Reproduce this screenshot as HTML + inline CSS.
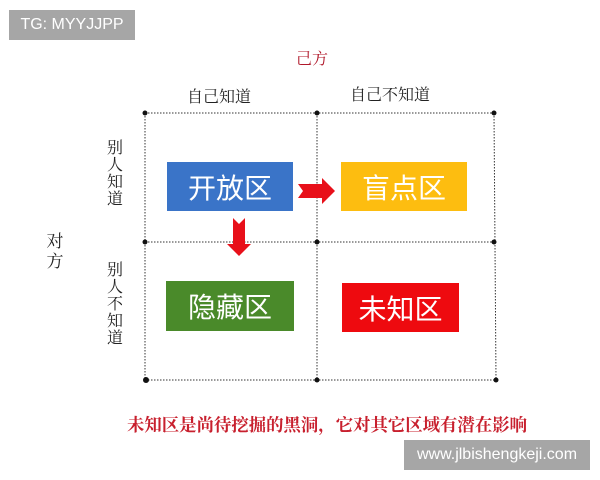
<!DOCTYPE html>
<html><head><meta charset="utf-8"><style>
body{margin:0;width:600px;height:480px;background:#fff;position:relative;overflow:hidden;font-family:"Liberation Serif","Noto Serif CJK SC",serif}
.a{position:absolute}
.box{position:absolute;color:#fff;font-family:"Liberation Sans","Noto Sans CJK SC",sans-serif;font-size:28px;display:flex;align-items:center;justify-content:center}
.wm{position:absolute;background:#a6a6a6;color:#fff;font-family:"Liberation Sans",sans-serif;font-size:16px;display:flex;align-items:center;justify-content:center}
.v{position:absolute;font-size:16px;line-height:17px;width:18px;text-align:center;color:#222}
</style></head><body>
<div class="wm" style="left:9px;top:10px;width:126px;height:30px">TG: MYYJJPP</div>
<div class="a" style="left:296px;top:46px;font-size:16px;color:#b0182a">己方</div>
<div class="a" style="left:187px;top:84px;font-size:16px;color:#222">自己知道</div>
<div class="a" style="left:350px;top:82px;font-size:16px;color:#222">自己不知道</div>
<div class="v" style="left:106px;top:140px">别<br>人<br>知<br>道</div>
<div class="v" style="left:106px;top:262px">别<br>人<br>不<br>知<br>道</div>
<div class="v" style="left:46px;top:232px;font-size:17px;line-height:20px">对<br>方</div>
<svg class="a" style="left:0;top:0" width="600" height="480">
<g stroke="#333" stroke-width="1" stroke-dasharray="1.5,1.5" fill="none">
<line x1="145" y1="113" x2="494" y2="113"/><line x1="145" y1="242" x2="494" y2="242"/><line x1="145" y1="380" x2="496" y2="380"/>
<line x1="145" y1="113" x2="145" y2="380"/><line x1="317" y1="113" x2="317" y2="380"/><line x1="494" y1="113" x2="496" y2="380"/>
</g>
<g fill="#111">
<circle cx="145" cy="113" r="2.5"/><circle cx="317" cy="113" r="2.5"/><circle cx="494" cy="113" r="2.5"/>
<circle cx="145" cy="242" r="2.5"/><circle cx="317" cy="242" r="2.5"/><circle cx="494" cy="242" r="2.5"/>
<circle cx="146" cy="380" r="3"/><circle cx="317" cy="380" r="2.5"/><circle cx="496" cy="380" r="2.5"/>
</g>
<polygon points="298,184 322,184 322,178 335,191 322,204 322,198 298,198 303,191" fill="#e8101a"/>
<polygon points="233,218 239,224 245,218 245,244 251,244 239,256 227,244 233,244" fill="#e8101a"/>
</svg>
<div class="box" style="left:167px;top:162px;width:126px;height:49px;background:#3a74c8">开放区</div>
<div class="box" style="left:341px;top:162px;width:126px;height:49px;background:#fdbd10">盲点区</div>
<div class="box" style="left:166px;top:281px;width:128px;height:50px;background:#4a8a2a">隐藏区</div>
<div class="box" style="left:342px;top:283px;width:117px;height:49px;background:#ee0a0f">未知区</div>
<div class="a" style="left:127px;top:411px;font-size:17.4px;font-weight:bold;color:#c8202e;letter-spacing:0">未知区是尚待挖掘的黑洞，它对其它区域有潜在影响</div>
<div class="wm" style="left:404px;top:440px;width:186px;height:30px">www.jlbishengkeji.com</div>
</body></html>
